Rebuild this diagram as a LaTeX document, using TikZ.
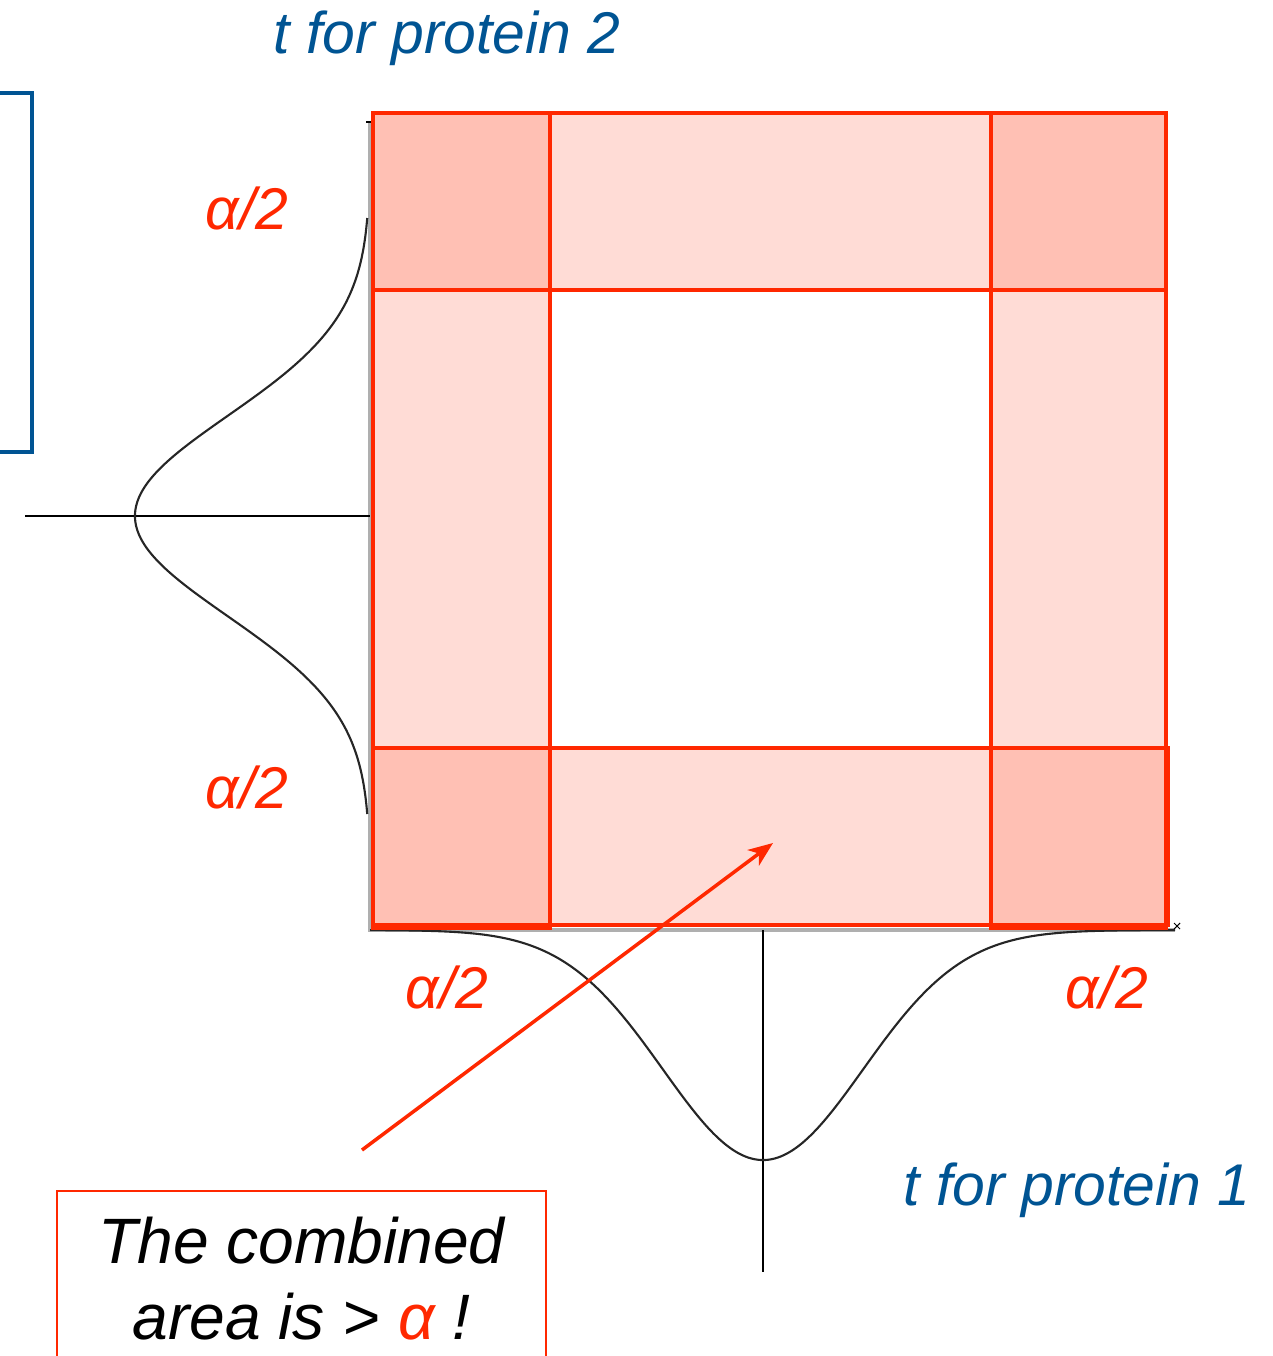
\documentclass[tikz,border=0pt]{standalone}
\usepackage{fontspec}
\setmainfont{Liberation Sans}
\usetikzlibrary{arrows.meta}
\definecolor{alphared}{RGB}{255,40,0}
\definecolor{protblue}{RGB}{0,84,147}
\definecolor{axisgray}{RGB}{175,175,175}

\begin{document}
\begin{tikzpicture}[x=0.02cm,y=-0.02cm,>={Stealth[length=14pt,width=11pt,inset=4pt]},
    band/.style={fill=alphared,fill opacity=0.16,draw=alphared,draw opacity=1,line width=2.8pt},
    density/.style={line width=1.2pt,black!85},
    half/.style={text=alphared,font=\fontsize{33.5}{40}\selectfont\itshape},
    tlabel/.style={text=protblue,font=\fontsize{33.5}{40}\selectfont\itshape}]
  \useasboundingbox (0,0) rectangle (1272,1356);

  % blue frame cut by the left edge
  \draw[protblue,line width=2pt] (-20,93) -- (32,93) -- (32,452) -- (-20,452);

  % axes of the joint plot
  \draw[axisgray,line width=2.2pt] (370,122) -- (370,930) -- (1175,930);
  \draw[line width=0.8pt] (366,122) -- (372,122);
  \draw[line width=0.6pt] (1174,923) -- (1180,929) (1174,929) -- (1180,923);

  % the two t densities
  \draw[line width=0.8pt] (25,516) -- (370,516);
  \draw[density] plot[domain=-298:298,samples=150,smooth]
    ({370-235*exp(-0.5*(\x/100)*(\x/100))},{516+\x});
  \draw[line width=0.8pt] (763,930) -- (763,1272);
  \draw[density] plot[domain=-393:412,samples=150,smooth]
    ({763+\x},{930+230*exp(-0.5*(\x/100)*(\x/100))});

  % rejection regions
  \path[band] (373,113) rectangle (1166,290);
  \path[band] (373,748) rectangle (1168,925);
  \path[band] (373,113) rectangle (550,928);
  \path[band] (991,113) rectangle (1166,928);

  \node[tlabel] (t2) at (447,38) {t for protein 2};
  \node[tlabel] (t1) at (1077,1190) {t for protein 1};
  \node[half] (htop) at (247,208) {α/2};
  \node[half] (hbot) at (247,787) {α/2};
  \node[half] (hleft) at (447,987) {α/2};
  \node[half] (hright) at (1107,987) {α/2};

  \node[draw=alphared,line width=1.3pt,anchor=north,minimum width=9.78cm,minimum height=3.5cm,
        align=center,font=\fontsize{36.5}{43}\selectfont\itshape] (note) at (301.5,1190)
    {The combined\\area is > \textcolor{alphared}{α} !};

  \coordinate (tail) at (362,1150);
  \coordinate (tip) at (773,843);
  \draw[->,alphared,line width=2pt] (tail) -- (tip);
\end{tikzpicture}
\end{document}
